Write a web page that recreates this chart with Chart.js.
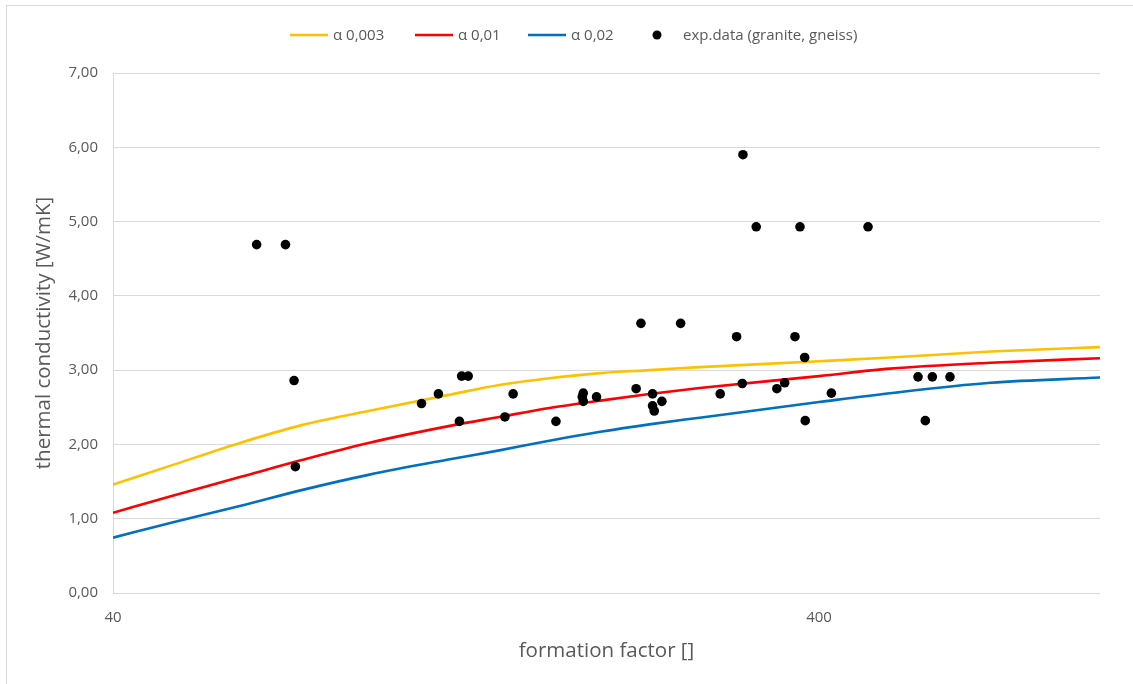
<!DOCTYPE html>
<html>
<head>
<meta charset="utf-8">
<script src="https://cdn.jsdelivr.net/npm/chart.js@4.4.1/dist/chart.umd.min.js"></script>
<style>
  html, body { margin: 0; padding: 0; background: #ffffff; }
  #wrap { position: relative; width: 1133px; height: 684px; overflow: hidden; }
  #frame { position: absolute; left: 6px; top: 5px; width: 1200px; height: 800px;
           border-left: 1px solid #d9d9d9; border-top: 1px solid #d9d9d9; pointer-events: none; }
  canvas { display: block; }
</style>
</head>
<body>
<div id="wrap">
  <canvas id="chart" width="1133" height="684"></canvas>
  <div id="frame"></div>
</div>
<script>
// Model curves: thermal conductivity vs. formation factor for three alpha values
const formationGrid = [40, 49, 60.5, 74, 92, 120, 141, 166, 196, 230, 271, 400, 504, 700, 1000];
const alpha0003 = [1.46, 1.735, 2.02, 2.26, 2.45, 2.67, 2.80, 2.89, 2.96, 3.00, 3.04, 3.12, 3.17, 3.25, 3.31];
const alpha001  = [1.08, 1.32, 1.56, 1.79, 2.02, 2.25, 2.37, 2.49, 2.59, 2.68, 2.76, 2.92, 3.02, 3.10, 3.16];
const alpha002  = [0.745, 0.96, 1.17, 1.385, 1.59, 1.80, 1.92, 2.05, 2.17, 2.27, 2.36, 2.57, 2.69, 2.83, 2.90];

// Measured samples (granite, gneiss)
const expFormation = [63.9, 70.2, 72.2, 72.5, 109.4, 115.6, 123.8, 124.7, 127.4, 143.6,
  147.5, 169.6, 185.4, 184.8, 185.4, 193.6, 223.8, 220.3, 232.4, 232.4,
  233.7, 239.6, 254.7, 289.8, 305.7, 312.1, 311.4, 325.9, 348.6, 357.6,
  369.8, 375.9, 381.7, 382.4, 416.4, 469.3, 552.4, 578.8, 565.7, 613.1];
const expConductivity = [4.69, 4.69, 2.86, 1.70, 2.55, 2.68, 2.31, 2.92, 2.92, 2.37,
  2.68, 2.31, 2.69, 2.64, 2.58, 2.64, 3.63, 2.75, 2.68, 2.52,
  2.45, 2.58, 3.63, 2.68, 3.45, 5.90, 2.82, 4.93, 2.75, 2.83,
  3.45, 4.93, 3.17, 2.32, 2.69, 4.93, 2.91, 2.91, 2.32, 2.91];

const xTicks = [40, 400];
const seriesLabels = ['α 0,003', 'α 0,01', 'α 0,02', 'exp.data (granite, gneiss)'];
const seriesColors = ['#ffc000', '#ff0000', '#0070c0', '#000000'];

const FONT = '"Open Sans", "Liberation Sans", sans-serif';
const TEXT = '#595959';
const GRID = '#d9d9d9';

const pts = (xs, ys) => xs.map((x, i) => ({ x: x, y: ys[i] }));

const lineSet = (i, ys) => ({
  type: 'line',
  label: seriesLabels[i],
  data: pts(formationGrid, ys),
  borderColor: seriesColors[i],
  backgroundColor: seriesColors[i],
  borderWidth: 2.6,
  pointRadius: 0,
  cubicInterpolationMode: 'monotone',
  order: 2 + i
});

// Legend drawn across the top of the chart
const topLegend = {
  id: 'topLegend',
  afterDraw(chart) {
    const ctx = chart.ctx;
    const y = 35;
    const slots = [
      { kind: 'line', x: 290 },
      { kind: 'line', x: 415 },
      { kind: 'line', x: 528 },
      { kind: 'dot', x: 657 }
    ];
    ctx.save();
    ctx.font = '15px ' + FONT;
    ctx.textBaseline = 'middle';
    chart.data.datasets.forEach((ds, i) => {
      const s = slots[i];
      let tx;
      if (s.kind === 'line') {
        ctx.strokeStyle = ds.borderColor;
        ctx.lineWidth = 2.6;
        ctx.beginPath();
        ctx.moveTo(s.x, y);
        ctx.lineTo(s.x + 38, y);
        ctx.stroke();
        tx = s.x + 43;
      } else {
        ctx.fillStyle = ds.backgroundColor;
        ctx.beginPath();
        ctx.arc(s.x, y, 4.5, 0, Math.PI * 2);
        ctx.fill();
        tx = s.x + 26;
      }
      ctx.fillStyle = TEXT;
      ctx.textAlign = 'left';
      ctx.fillText(ds.label, tx, y + 1);
    });
    ctx.restore();
  }
};

new Chart(document.getElementById('chart'), {
  data: {
    datasets: [
      lineSet(0, alpha0003),
      lineSet(1, alpha001),
      lineSet(2, alpha002),
      {
        type: 'scatter',
        label: seriesLabels[3],
        data: pts(expFormation, expConductivity),
        backgroundColor: seriesColors[3],
        borderColor: seriesColors[3],
        pointRadius: 4.8,
        pointBorderWidth: 0,
        order: 0
      }
    ]
  },
  options: {
    responsive: false,
    animation: false,
    devicePixelRatio: 1,
    layout: { padding: { top: 73, right: 33, left: 0, bottom: 0 } },
    plugins: {
      legend: { display: false },
      tooltip: { enabled: false }
    },
    scales: {
      x: {
        type: 'logarithmic',
        min: 40,
        max: 1000,
        afterBuildTicks(scale) {
          scale.ticks = xTicks.map(v => ({ value: v }));
        },
        afterFit(scale) { scale.height = 91; },
        grid: { display: false, drawTicks: false },
        border: { display: false },
        ticks: {
          color: TEXT,
          font: { family: FONT, size: 15 },
          padding: 16,
          autoSkip: false,
          maxRotation: 0,
          callback: v => String(v)
        },
        title: {
          display: true,
          text: 'formation factor []',
          color: TEXT,
          font: { family: FONT, size: 20.5 },
          padding: { top: 0, bottom: 21 }
        }
      },
      y: {
        min: 0,
        max: 7,
        afterFit(scale) { scale.width = 113; },
        grid: { color: GRID, lineWidth: 1, drawTicks: false },
        border: { display: true, color: GRID, width: 1 },
        ticks: {
          stepSize: 1,
          color: TEXT,
          font: { family: FONT, size: 15 },
          padding: 15,
          callback: v => v.toFixed(2).replace('.', ',')
        },
        title: {
          display: true,
          text: 'thermal conductivity [W/mK]',
          color: TEXT,
          font: { family: FONT, size: 20.5 },
          padding: { top: 32, bottom: 0 }
        }
      }
    }
  },
  plugins: [topLegend]
});
</script>
</body>
</html>
